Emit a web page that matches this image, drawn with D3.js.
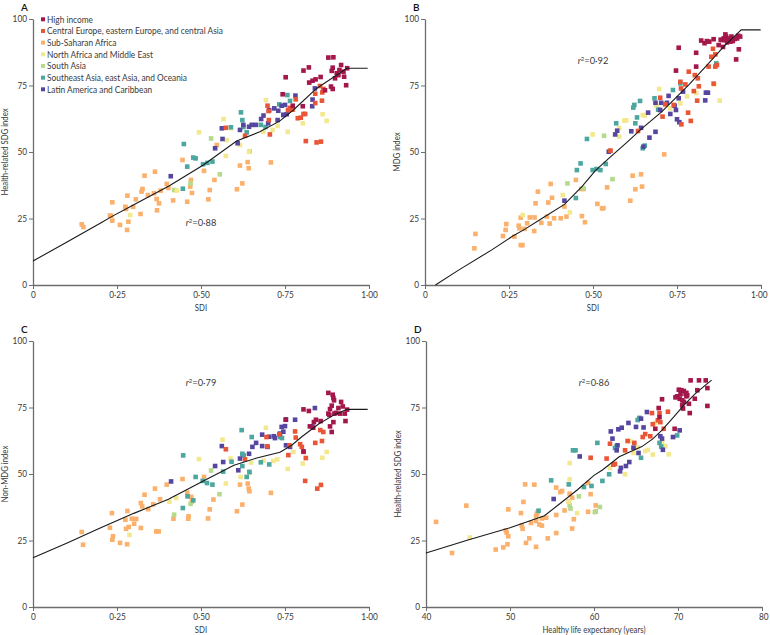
<!DOCTYPE html>
<html><head><meta charset="utf-8">
<script src="https://cdn.jsdelivr.net/npm/d3@7"></script>
<style>
body{margin:0;background:#fff;}
svg{display:block;font-family:Lato,"Open Sans",sans-serif;}
</style></head><body><svg id="c" width="770" height="635"></svg>
<script>
const regions = ["High income","Central Europe, eastern Europe, and central Asia","Sub-Saharan Africa","North Africa and Middle East","South Asia","Southeast Asia, east Asia, and Oceania","Latin America and Caribbean"];
const regionColors = ["#a3174a","#ea5536","#fbb06b","#f4e88e","#b5da8d","#4ba79f","#5646a0"];
const drawOrder = [2,4,3,5,6,1,0];
const sdiTicks = [0,0.25,0.5,0.75,1];
const sdiTickLabels = ["0","0·25","0·50","0·75","1·00"];
const haleTicks = [40,50,60,70,80];
const haleTickLabels = ["40","50","60","70","80"];
const yTicks = [0,25,50,75,100];
const panelLetters = ["A","B","C","D"];
const yTitles = ["Health-related SDG index","MDG index","Non-MDG index","Health-related SDG index"];
const xTitles = ["SDI","SDI","SDI","Healthy life expectancy (years)"];
const r2Labels = ["0·88","0·92","0·79","0·86"];

// Panel A: SDI vs health-related SDG index
const A_high = [[.879,85.5],[.894,85.6],[.821,81.8],[.805,80.6],[.917,82.7],[.892,81.7],[.935,81.5],[.889,80.5],[.904,79.6],[.912,80.8],[.926,78.3],[.924,80.2],[.752,78.1],[.856,78.2],[.841,77.3],[.832,76.8],[.822,76.1],[.887,74.6],[.892,73.7],[.932,75.1],[.869,73.2],[.743,71.7],[.773,67.4],[.803,67.2],[.899,77.7],[.909,78.9]];
const A_cee = [[.854,74.8],[.864,73.7],[.861,72.4],[.840,71.9],[.860,69.3],[.840,68.4],[.782,69.8],[.772,65.9],[.805,64.3],[.797,62.9],[.788,62.7],[.810,64.3],[.759,65.7],[.698,67.4],[.701,65.4],[.702,62.0],[.705,56.6],[.631,56.1],[.574,59.1],[.812,54.1],[.844,53.6],[.857,53.9],[.764,66.6]];
const A_ssa = [[.145,22.8],[.150,21.8],[.229,26.1],[.233,26.0],[.236,24.2],[.236,31.1],[.259,22.6],[.280,20.7],[.284,23.8],[.281,33.6],[.275,29.4],[.277,28.6],[.298,29.4],[.306,32.2],[.320,26.7],[.323,35.1],[.326,36.1],[.332,41.1],[.342,33.8],[.363,42.6],[.360,34.5],[.368,32.3],[.375,30.7],[.369,28.1],[.380,35.5],[.398,38.0],[.417,31.8],[.445,47.0],[.459,31.3],[.470,39.5],[.473,34.6],[.509,42.9],[.547,52.6],[.540,39.5],[.526,35.7],[.522,32.2],[.616,44.9],[.639,46.2],[.642,43.9],[.623,38.2],[.607,36.0],[.708,46.1],[.468,37.0],[.403,36.5]];
const A_name = [[.693,69.5],[.567,62.4],[.494,57.4],[.576,54.5],[.589,58.9],[.574,48.5],[.643,50.1],[.616,52.6],[.758,57.6],[.803,60.8],[.862,64.2],[.874,61.7],[.713,58.3],[.728,59.8],[.775,66.0],[.289,26.3],[.428,35.5],[.686,57.6]];
const A_sa = [[.530,55.1],[.556,41.6],[.469,38.2],[.420,35.7],[.645,50.2]];
const A_sea = [[.757,71.4],[.765,69.2],[.733,67.9],[.619,64.9],[.623,62.0],[.589,59.3],[.626,59.4],[.636,57.4],[.678,60.2],[.692,59.4],[.449,53.0],[.477,47.9],[.484,47.6],[.506,45.4],[.519,45.9],[.534,46.4],[.459,44.5],[.446,36.2],[.745,64.0]];
const A_lat = [[.839,73.9],[.832,69.7],[.831,67.2],[.781,71.2],[.750,67.7],[.740,67.4],[.718,66.4],[.703,65.7],[.686,63.7],[.679,62.4],[.700,60.8],[.663,60.2],[.651,60.2],[.643,59.5],[.626,60.2],[.616,58.3],[.609,53.3],[.562,58.9],[.564,54.9],[.542,51.4],[.410,40.9],[.728,62.0],[.745,63.9],[.755,64.2],[.730,65.5]];
const A_fit = [[0,9.0],[0.1,16.1],[0.2,23.2],[0.234,25.7],[0.3,30.2],[0.406,37.3],[0.507,45.1],[0.606,54.1],[0.675,57.6],[0.735,61.7],[0.775,65.8],[0.844,73.9],[0.934,81.5],[0.996,81.5]];

// Panel B: SDI vs MDG index
const B_high = [[.822,91.9],[.832,90.9],[.839,91.7],[.846,91.5],[.859,92.4],[.874,90.2],[.884,92.1],[.889,92.7],[.894,94.2],[.896,93.4],[.902,92.1],[.906,92.7],[.912,93.4],[.916,91.7],[.922,92.5],[.929,92.7],[.932,93.7],[.938,93.4],[.934,88.6],[.926,84.8],[.887,89.5],[.899,91.2],[.880,92.2],[.755,89.2],[.807,87.3],[.807,82.1],[.747,80.6],[.892,92.1],[.909,91.5]];
const B_cee = [[.857,88.8],[.864,86.7],[.852,85.8],[.869,82.7],[.864,82.1],[.844,82.1],[.785,80.2],[.803,78.9],[.812,77.7],[.760,76.4],[.775,75.4],[.762,73.9],[.800,72.9],[.810,69.3],[.815,74.7],[.700,70.4],[.715,67.9],[.740,67.7],[.707,63.3],[.783,64.8],[.791,61.7],[.763,60.4],[.634,57.9],[.552,50.5],[.859,75.7]];
const B_ssa = [[.150,19.2],[.147,13.8],[.232,18.4],[.240,20.7],[.242,22.9],[.266,18.2],[.279,22.3],[.281,21.3],[.285,15.0],[.290,15.0],[.285,25.3],[.296,21.1],[.304,23.2],[.312,25.4],[.326,25.4],[.325,20.3],[.336,35.1],[.329,30.7],[.346,23.4],[.363,25.7],[.367,31.0],[.371,23.1],[.374,38.0],[.378,32.8],[.384,25.1],[.404,25.1],[.421,25.7],[.449,39.5],[.465,36.1],[.472,36.1],[.467,25.9],[.476,23.6],[.513,30.5],[.527,28.8],[.531,28.9],[.542,36.7],[.551,50.5],[.611,31.7],[.618,41.1],[.643,41.6],[.626,36.0],[.646,37.0],[.712,49.1],[.415,29.5]];
const B_name = [[.697,73.7],[.861,75.4],[.877,69.3],[.807,72.2],[.780,70.9],[.760,68.3],[.730,66.4],[.689,67.4],[.648,63.9],[.654,63.7],[.593,61.8],[.599,61.9],[.578,59.0],[.578,55.8],[.499,56.6],[.410,33.8],[.431,27.3],[.291,26.3]];
const B_sa = [[.533,56.1],[.558,39.8],[.424,38.2],[.470,36.4]];
const B_sea = [[.867,83.3],[.760,75.8],[.738,73.3],[.683,70.2],[.640,69.2],[.623,67.7],[.620,66.7],[.631,63.0],[.626,60.8],[.569,60.8],[.482,54.9],[.654,52.4],[.648,51.4],[.694,65.9],[.499,43.2],[.510,43.6],[.522,43.2],[.463,45.7],[.452,43.2],[.538,45.5],[.449,32.7]];
const B_lat = [[.836,72.3],[.842,72.3],[.834,69.4],[.768,72.7],[.755,70.2],[.743,67.4],[.747,65.8],[.730,64.3],[.720,68.5],[.703,68.5],[.686,68.5],[.725,71.1],[.700,65.8],[.664,64.8],[.614,57.8],[.643,59.1],[.686,57.6],[.668,55.4],[.572,58.0],[.566,56.6],[.547,50.1],[.750,62.3],[.757,61.2],[.415,31.7],[.650,52.0]];
const B_fit = [[0.031,0],[0.1,5.6],[0.2,13.3],[0.259,18.2],[0.3,21.2],[0.35,25.2],[0.415,30.3],[0.467,37.0],[0.507,43.0],[0.547,47.6],[0.6,53.5],[0.646,58.9],[0.705,65.2],[0.785,75.2],[0.844,83.3],[0.889,89.6],[0.941,95.9],[0.999,95.9]];

// Panel C: SDI vs non-MDG index
const C_high = [[.879,80.5],[.892,79.8],[.894,78.6],[.896,77.7],[.889,75.7],[.884,74.4],[.879,72.7],[.882,72.2],[.897,72.7],[.902,73.0],[.909,74.8],[.917,77.1],[.922,75.4],[.914,72.7],[.928,72.7],[.930,69.9],[.935,74.2],[.894,69.5],[.884,67.9],[.889,65.8],[.805,74.3],[.821,73.7],[.836,69.5],[.824,67.9],[.842,70.4],[.856,69.9],[.752,70.4],[.834,67.4],[.805,58.5]];
const C_cee = [[.780,66.0],[.782,63.7],[.795,61.2],[.800,60.2],[.840,61.7],[.860,62.4],[.864,65.8],[.695,63.9],[.697,60.4],[.733,64.9],[.763,60.8],[.760,57.1],[.631,55.5],[.574,59.3],[.810,47.4],[.846,44.5],[.857,45.9],[.805,58.3],[.812,56.0],[.855,66.5]];
const C_ssa = [[.145,28.2],[.149,23.4],[.235,35.3],[.229,29.8],[.238,26.6],[.236,25.3],[.259,24.1],[.280,23.6],[.281,36.1],[.275,32.8],[.277,29.4],[.285,30.1],[.294,33.2],[.301,31.3],[.307,33.1],[.321,29.7],[.321,39.1],[.325,37.8],[.332,42.2],[.343,36.8],[.358,38.6],[.363,44.5],[.367,28.4],[.374,28.4],[.378,40.5],[.398,46.0],[.418,33.2],[.445,48.1],[.459,43.0],[.471,41.4],[.473,39.7],[.463,34.1],[.509,48.9],[.526,36.7],[.521,33.3],[.537,40.4],[.616,46.0],[.639,46.4],[.642,44.5],[.644,43.5],[.623,38.5],[.607,36.0],[.708,42.9],[.462,33.2]];
const C_name = [[.693,67.4],[.564,62.9],[.588,55.8],[.494,55.6],[.649,54.3],[.574,46.4],[.618,48.9],[.715,54.9],[.727,55.5],[.775,58.3],[.758,51.9],[.803,53.9],[.861,56.1],[.874,58.3],[.426,41.0],[.287,27.1],[.406,39.6],[.686,55.0]];
const C_sa = [[.530,51.3],[.555,42.4],[.469,38.8],[.420,34.7],[.645,50.5]];
const C_sea = [[.621,66.5],[.651,63.9],[.623,57.6],[.627,57.0],[.623,53.0],[.644,50.8],[.636,48.9],[.591,54.6],[.566,50.9],[.678,54.4],[.703,53.6],[.735,63.9],[.741,63.5],[.447,57.0],[.484,48.9],[.505,47.4],[.518,46.6],[.534,46.0],[.460,41.6],[.477,40.1],[.446,37.2]];
const C_lat = [[.839,74.8],[.831,67.9],[.780,70.4],[.753,70.5],[.740,67.7],[.750,68.0],[.735,65.2],[.717,64.2],[.720,63.5],[.703,64.0],[.682,64.8],[.698,60.2],[.682,60.5],[.664,61.7],[.653,60.2],[.643,57.6],[.616,55.8],[.611,51.4],[.562,60.5],[.566,54.5],[.542,53.0],[.411,47.2],[.753,60.8],[.765,60.2],[.745,65.9]];
const C_fit = [[0,18.5],[0.1,24.0],[0.2,29.7],[0.3,35.2],[0.403,40.5],[0.507,47.4],[0.598,53.3],[0.666,56.0],[0.735,58.2],[0.77,60.8],[0.8,64.0],[0.85,68.8],[0.9,72.5],[0.935,74.3],[0.996,74.3]];

// Panel D: healthy life expectancy vs health-related SDG index
const D_high = [[71.5,85.2],[72.5,85.2],[73.3,85.2],[73.5,82.3],[72.3,81.5],[70.1,81.7],[70.4,81.5],[70.7,81.2],[70.9,80.2],[71.1,79.6],[69.9,79.2],[69.7,78.8],[70.2,78.3],[70.5,77.7],[70.7,77.1],[71.0,79.2],[71.3,76.4],[72.0,78.3],[70.5,75.8],[70.6,74.6],[71.4,72.9],[73.5,75.6],[68.1,78.1],[67.7,74.8],[67.8,71.4],[67.3,67.0],[69.6,67.0],[71.0,80.5],[70.3,80.0]];
const D_cee = [[68.8,73.4],[67.8,72.9],[67.9,69.5],[66.9,72.9],[67.0,68.7],[68.3,67.0],[66.7,64.2],[65.8,63.9],[64.8,61.7],[63.7,58.9],[64.0,62.4],[62.3,53.5],[62.5,53.8],[61.9,61.4],[61.5,55.8],[59.6,56.1],[67.6,70.2],[66.1,65.0]];
const D_ssa = [[41.2,32.0],[43.1,20.3],[44.8,38.1],[48.3,21.6],[49.2,22.4],[49.7,23.6],[49.5,28.8],[49.6,28.0],[49.8,26.6],[49.8,36.7],[51.3,35.3],[51.4,30.7],[51.5,29.4],[51.8,46.1],[51.6,39.5],[51.9,24.1],[52.3,25.8],[52.5,31.6],[52.9,46.0],[53.1,34.1],[53.2,35.0],[53.3,35.7],[53.1,22.6],[53.1,32.3],[53.5,31.0],[53.8,33.3],[53.8,30.6],[54.3,33.6],[54.5,25.8],[55.5,44.9],[56.0,43.2],[56.2,43.6],[55.5,34.6],[55.5,27.8],[56.5,36.3],[57.1,42.6],[57.4,41.1],[57.6,33.0],[57.4,29.5],[59.3,46.6],[59.6,42.4],[59.3,35.8],[60.2,38.2],[60.2,35.9],[57.0,39.6]];
const D_name = [[67.3,69.2],[68.1,62.0],[68.5,60.5],[68.9,57.4],[69.5,63.9],[67.0,57.3],[66.4,59.1],[66.1,58.6],[64.7,57.9],[63.7,49.9],[61.9,52.3],[57.1,54.1],[57.1,48.0],[57.0,39.5],[58.0,35.3],[45.2,26.1],[64.3,62.4],[65.2,60.0]];
const D_sa = [[58.2,41.6],[57.1,38.2],[60.1,35.7],[60.7,37.6],[57.2,37.0]];
const D_sea = [[65.4,71.1],[65.2,70.3],[67.8,61.7],[68.0,60.3],[69.9,64.5],[62.5,59.8],[60.4,61.7],[57.5,58.9],[57.8,58.9],[54.9,47.6],[57.0,46.1],[58.8,45.1],[59.7,45.5],[61.0,47.4],[61.8,49.9],[65.6,56.1],[62.7,60.5],[53.4,36.2]];
const D_lat = [[66.3,73.3],[65.6,70.8],[65.0,67.7],[64.1,69.2],[63.3,67.4],[62.9,66.8],[62.0,66.0],[62.2,63.3],[62.8,60.8],[62.7,58.9],[64.7,59.9],[65.3,57.9],[64.2,54.5],[63.8,53.0],[63.2,52.3],[58.3,56.6],[55.2,40.6],[68.1,63.3],[68.2,59.1],[69.4,63.9],[70.2,66.4],[65.9,67.5],[67.9,64.2],[63.1,51.0]];
const D_fit = [[40,20.3],[45,25.2],[50,29.8],[54.1,34.3],[56,39.0],[58,44.0],[60,49.5],[61,51.5],[63,56.5],[65.7,60.3],[67,63.2],[68.1,66.5],[69.5,71.5],[70.7,75.9],[72,80.0],[73.3,83.5],[74,85.3]];

const panelData = [
  [A_high,A_cee,A_ssa,A_name,A_sa,A_sea,A_lat],
  [B_high,B_cee,B_ssa,B_name,B_sa,B_sea,B_lat],
  [C_high,C_cee,C_ssa,C_name,C_sa,C_sea,C_lat],
  [D_high,D_cee,D_ssa,D_name,D_sa,D_sea,D_lat]
];
const fits = [A_fit,B_fit,C_fit,D_fit];

// layout
const svg = d3.select("#c");
const W = 336, H = 266;
const origins = [[33,19],[425,19],[33,341],[426,341]];
const r2Pos = [[0.5,0.22],[0.5,0.83],[0.5,0.83],[0.5,0.83]];
const axisColor = "#6d6d6d", textColor = "#3a3a3a";

// horizontally condense a text element (emulates the condensed typeface of the original)
function condense(sel, f) {
  sel.each(function() {
    const len = this.getComputedTextLength();
    if (len > 0) d3.select(this).attr("textLength", len * f).attr("lengthAdjust", "spacingAndGlyphs");
  });
}

panelData.forEach((groups, i) => {
  const g = svg.append("g").attr("transform", `translate(${origins[i][0]},${origins[i][1]})`);
  const isHale = i === 3;
  const x = d3.scaleLinear().domain(isHale ? [40,80] : [0,1]).range([0,W]);
  const y = d3.scaleLinear().domain([0,100]).range([H,0]);
  const xt = isHale ? haleTicks : sdiTicks;
  const xl = isHale ? haleTickLabels : sdiTickLabels;

  const xAxis = d3.axisBottom(x).tickValues(xt).tickFormat((d,k)=>xl[k]).tickSize(4).tickSizeOuter(0).tickPadding(2);
  const yAxis = d3.axisLeft(y).tickValues(yTicks).tickSize(4).tickSizeOuter(0).tickPadding(2);
  const gx = g.append("g").attr("transform",`translate(0,${H})`).call(xAxis);
  const gy = g.append("g").call(yAxis);
  [gx,gy].forEach(a=>{
    a.attr("font-family",null);
    a.select(".domain").attr("stroke",axisColor).attr("stroke-width",1.3);
    a.selectAll(".tick line").attr("stroke",axisColor).attr("stroke-width",1);
    a.selectAll(".tick text").attr("fill",textColor).attr("font-size",9.2).call(condense, 0.9);
  });
  // keep the right-most tick label of the right-hand panels inside the picture
  if (origins[i][0] + W > 740) {
    gx.selectAll(".tick:last-of-type text").attr("text-anchor","end").attr("x", 6);
  }

  // points
  drawOrder.forEach(r => {
    g.append("g").selectAll("rect").data(groups[r]).join("rect")
      .attr("x", d => x(d[0]) - 2.3).attr("y", d => y(d[1]) - 2.3)
      .attr("width", 4.6).attr("height", 4.6)
      .attr("fill", regionColors[r]);
  });

  // fit line
  g.append("path").datum(fits[i])
    .attr("d", d3.line().x(d=>x(d[0])).y(d=>y(d[1])))
    .attr("fill","none").attr("stroke","#1a1a1a").attr("stroke-width",1.1);

  // r2
  const rt = g.append("text").attr("x", W*r2Pos[i][0]).attr("y", H*(1-r2Pos[i][1]))
    .attr("text-anchor","middle").attr("font-size",9.3).attr("fill",textColor);
  rt.append("tspan").attr("font-style","italic").text("r");
  rt.append("tspan").attr("font-size",6).attr("dy",-3.5).text("2");
  rt.append("tspan").attr("dy",3.5).text("=" + r2Labels[i]);

  // titles
  g.append("text").attr("x", W/2).attr("y", H + 25.5).attr("text-anchor","middle")
    .attr("font-size",9).attr("fill",textColor).text(xTitles[i]).call(condense, 0.86);
  g.append("text").attr("transform",`translate(-25,${H/2}) rotate(-90)`).attr("text-anchor","middle")
    .attr("font-size",9).attr("fill",textColor).text(yTitles[i]).call(condense, 0.86);
  g.append("text").attr("x",-12).attr("y",-8).attr("text-anchor","start")
    .attr("font-size",10).attr("font-weight",600).attr("fill","#111").text(panelLetters[i]);
});

// legend in panel A
const leg = svg.append("g").attr("transform","translate(43,19.3)");
regions.forEach((name, k) => {
  const row = leg.append("g").attr("transform",`translate(0,${k*11.67})`);
  row.append("rect").attr("x",-2).attr("y",-2).attr("width",4).attr("height",4).attr("fill",regionColors[k]);
  row.append("text").attr("x",4).attr("y",3.5).attr("font-size",9.6).attr("fill",textColor).text(name).call(condense, 0.87);
});
</script></body></html>
